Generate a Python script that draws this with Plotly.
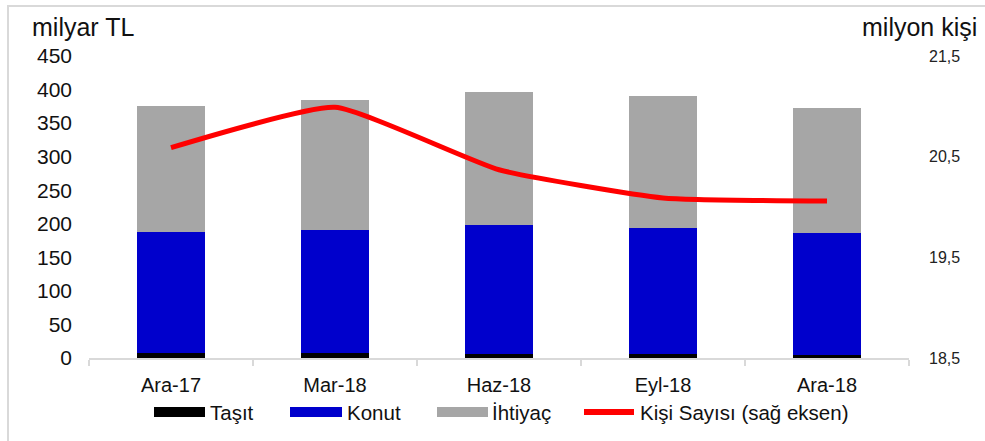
import plotly.graph_objects as go

categories = ["Ara-17", "Mar-18", "Haz-18", "Eyl-18", "Ara-18"]
tasit = [7.0, 6.8, 6.5, 5.5, 5.0]
konut = [181.0, 184.2, 191.5, 188.5, 181.0]
ihtiyac = [187.5, 193.5, 198.0, 196.0, 187.0]
kisi = [20.59, 20.99, 20.37, 20.09, 20.06]

legend_names = ["Taşıt", "Konut", "İhtiyaç", "Kişi Sayısı (sağ eksen)"]
colors = ["#000000", "#0000cc", "#a6a6a6", "#ff0000"]

W, H = 985, 441
L, R, T, B = 89, 909, 56, 358  # plot area in pixels

def px(x):
    return (x - L) / (R - L)

def py(y):
    return (B - y) / (B - T)

FONT = "Arial, Liberation Sans, sans-serif"

fig = go.Figure()
for name, vals, col in zip(legend_names[:3], [tasit, konut, ihtiyac], colors[:3]):
    fig.add_trace(go.Bar(x=categories, y=vals, name=name, marker=dict(color=col, line=dict(width=0)),
                         showlegend=False))
fig.add_trace(go.Scatter(x=categories, y=kisi, name=legend_names[3], yaxis="y2", mode="lines",
                         line=dict(color=colors[3], width=5, shape="spline", smoothing=0.45),
                         showlegend=False))

fig.update_layout(
    width=W, height=H,
    margin=dict(l=L, r=W - R, t=T, b=H - B, pad=0),
    barmode="stack", bargap=0.59,
    plot_bgcolor="white", paper_bgcolor="white",
    separators=",.",
    font=dict(family=FONT, color="#000000"),
    xaxis=dict(showgrid=False, showline=True, linecolor="#d9d9d9", linewidth=2,
               ticks="outside", tickson="boundaries", tickcolor="#d9d9d9", ticklen=6, tickwidth=2,
               tickfont=dict(size=20, color="#111111"), ticklabelstandoff=8),
    yaxis=dict(range=[0, 450], dtick=50, showgrid=False, showline=False, zeroline=False,
               tickfont=dict(size=21, color="#111111"), ticklabelstandoff=16),
    yaxis2=dict(range=[18.5, 21.5], dtick=1, tick0=18.5, overlaying="y", side="right",
                showgrid=False, showline=False, zeroline=False, tickformat=".1f",
                tickfont=dict(size=16, color="#222222"), ticklabelstandoff=19),
)

shapes = [dict(type="rect", xref="paper", yref="paper", x0=px(8), x1=px(995), y0=py(460), y1=py(6),
               line=dict(color="#d9d9d9", width=2), fillcolor="rgba(0,0,0,0)", layer="below")]
annotations = [
    dict(text="milyar TL", xref="paper", yref="paper", x=px(30), y=py(27), xanchor="left",
         yanchor="middle", showarrow=False, font=dict(size=25, family=FONT, color="#111111")),
    dict(text="milyon kişi", xref="paper", yref="paper", x=px(979), y=py(27), xanchor="right",
         yanchor="middle", showarrow=False, font=dict(size=25, family=FONT, color="#111111")),
]

# custom legend
leg_y = 412
sw = [(154, 205), (290, 342), (437, 488), (581, 637)]
tx = [208, 345, 490, 638]
for i, (name, col) in enumerate(zip(legend_names, colors)):
    x0, x1 = sw[i]
    if i < 3:
        shapes.append(dict(type="rect", xref="paper", yref="paper", x0=px(x0), x1=px(x1),
                           y0=py(leg_y + 5), y1=py(leg_y - 5), fillcolor=col, line=dict(width=0)))
    else:
        shapes.append(dict(type="line", xref="paper", yref="paper", x0=px(x0 + 3), x1=px(x1 - 3),
                           y0=py(leg_y), y1=py(leg_y), line=dict(color=col, width=6)))
    annotations.append(dict(text=name, xref="paper", yref="paper", x=px(tx[i]), y=py(leg_y),
                            xanchor="left", yanchor="middle", showarrow=False,
                            font=dict(size=20.5, family=FONT, color="#111111")))

fig.update_layout(shapes=shapes, annotations=annotations)
fig.write_html("out.html", config={"displayModeBar": False})

with open("out.html", "r", encoding="utf-8") as f:
    html = f.read()
html = html.replace("<head>", "<head><style>html,body{margin:0;padding:0;overflow:hidden;}</style>", 1)
with open("out.html", "w", encoding="utf-8") as f:
    f.write(html)
